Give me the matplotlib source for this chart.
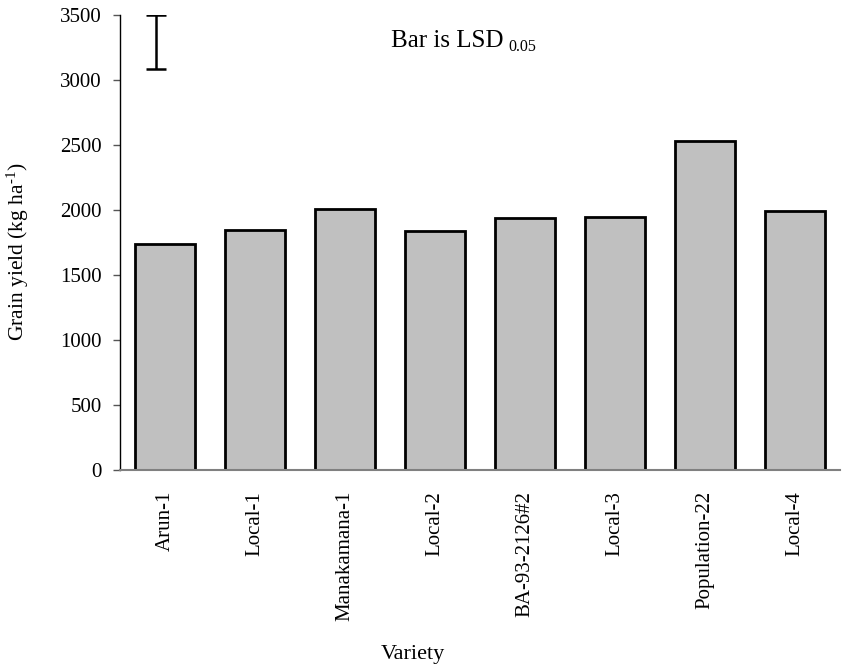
import matplotlib
matplotlib.use("Agg")
import matplotlib.pyplot as plt

plt.rcParams['font.family'] = ['Liberation Serif', 'DejaVu Serif']
plt.rcParams['mathtext.fontset'] = 'custom'
plt.rcParams['mathtext.rm'] = 'Liberation Serif'
plt.rcParams['mathtext.it'] = 'Liberation Serif:italic'

# Grain yield by variety
varieties = ["Arun-1", "Local-1", "Manakamana-1", "Local-2",
             "BA-93-2126#2", "Local-3", "Population-22", "Local-4"]
yields = [1735, 1845, 2010, 1835, 1935, 1950, 2530, 1990]

# LSD (0.05) reference bar, hanging from the top of the axis
lsd_value = 415
lsd_top = 3500
lsd_x = -0.1

y_ticks = [0, 500, 1000, 1500, 2000, 2500, 3000, 3500]

W, H = 842, 672
fig = plt.figure(figsize=(W / 100, H / 100), dpi=100)
ax = fig.add_axes([120 / W, (H - 470) / H, 720 / W, 455 / H])

x = list(range(len(varieties)))
ax.bar(x, yields, width=0.67, color='#c0c0c0', edgecolor='black',
       linewidth=2, zorder=2)

ax.errorbar([lsd_x], [lsd_top - lsd_value / 2], yerr=[lsd_value / 2],
            fmt='none', ecolor='black', elinewidth=1.8, capsize=7.2,
            capthick=1.8, zorder=3)

ax.set_xlim(-0.5, len(varieties) - 0.5)
ax.set_ylim(0, 3500)
ax.set_yticks(y_ticks)
ax.set_xticks(x)
ax.set_xticklabels(varieties, rotation=90, fontsize=15)
ax.tick_params(axis='x', length=0, pad=15)
ax.tick_params(axis='y', direction='out', length=5, width=1, color='#555555',
               labelsize=15, pad=8)

for s in ('top', 'right'):
    ax.spines[s].set_visible(False)
ax.spines['left'].set_color('black')
ax.spines['left'].set_linewidth(1)
ax.spines['bottom'].set_color('#808080')
ax.spines['bottom'].set_linewidth(1.5)

# Axis titles
fig.text(18 / W, 1 - 252 / H, r"Grain yield (kg ha$^{\text{-1}}$)",
         rotation=90, ha='center', va='center', fontsize=15.5)
fig.text(413 / W, 1 - 655 / H, "Variety", ha='center', va='center',
         fontsize=16)

# Annotation for the LSD bar
fig.text(391 / W, 1 - 46.7 / H, "Bar is LSD", ha='left', va='baseline',
         fontsize=18)
fig.text(508 / W, 1 - 51 / H, "0.05", ha='left', va='baseline',
         fontsize=11.5)

fig.savefig("out.png", dpi=100)
